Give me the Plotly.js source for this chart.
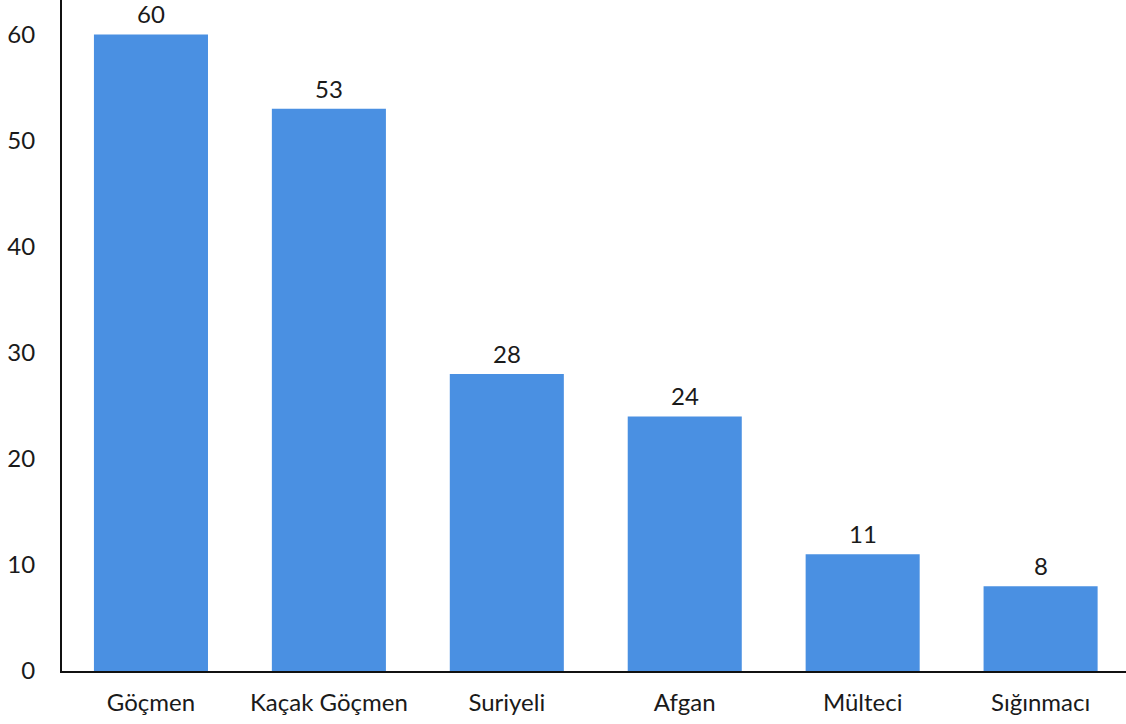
<!DOCTYPE html>
<html><head><meta charset="utf-8">
<script src="https://cdn.plot.ly/plotly-3.0.1.min.js"></script>
<style>html,body{margin:0;padding:0;background:#fff}#chart{width:1126px;height:724px}</style>
</head><body><div id="chart"></div>
<script>
const categories = ["Göçmen", "Kaçak Göçmen", "Suriyeli", "Afgan", "Mülteci", "Sığınmacı"];
const values = [60, 53, 28, 24, 11, 8];
const yTicks = [0, 10, 20, 30, 40, 50, 60];
const idx = categories.map((c, i) => i);

const trace = {
  type: 'bar', x: idx, y: values,
  marker: {color: '#4A90E2'}, width: 0.641, hoverinfo: 'none'
};
const annotations = values.map((v, i) => ({
  x: i, y: v, xref: 'x', yref: 'y', text: String(v), showarrow: false,
  yanchor: 'bottom', yshift: 4, font: {family: 'Lato', size: 24, color: '#1a1a1a'}
}));
const layout = {
  width: 1126, height: 724,
  margin: {l: 62, r: 0, t: 0, b: 53, pad: 0},
  paper_bgcolor: '#fff', plot_bgcolor: '#fff',
  font: {family: 'Lato', size: 24, color: '#1a1a1a'},
  showlegend: false, annotations: annotations,
  xaxis: {range: [-0.5, 5.48], tickvals: idx, ticktext: categories,
    showline: true, linecolor: '#111', linewidth: 2, ticks: 'outside', ticklen: 9, tickcolor: 'rgba(0,0,0,0)',
    tickfont: {family: 'Lato', size: 24, color: '#1a1a1a'}, showgrid: false, zeroline: false, fixedrange: true},
  yaxis: {range: [0, 63.25], showline: true, linecolor: '#111', linewidth: 2, showgrid: false, zeroline: false,
    tickvals: yTicks, ticktext: yTicks.map(String), ticks: 'outside', ticklen: 20, tickcolor: 'rgba(0,0,0,0)',
    tickfont: {family: 'Lato', size: 24, color: '#1a1a1a'}, fixedrange: true}
};
Plotly.newPlot('chart', [trace], layout, {displayModeBar: false, staticPlot: true});
</script></body></html>
